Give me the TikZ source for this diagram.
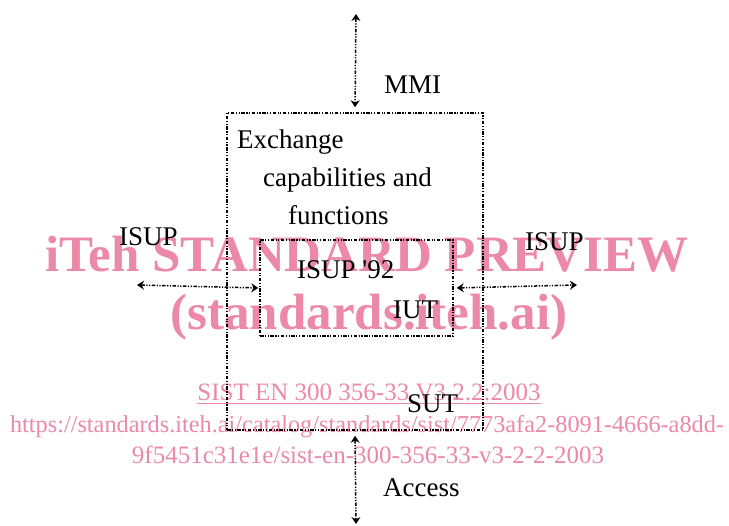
\documentclass[tikz,border=0pt]{standalone}
\usepackage{fontspec}
\setmainfont{Liberation Serif}
\usetikzlibrary{arrows.meta,positioning}

\definecolor{wmpink}{RGB}{236,136,168}

\begin{document}
\begin{tikzpicture}[x=1pt, y=-1pt,
    font=\fontsize{27}{32}\selectfont,
    dashdots/.style = {line width=1.5pt, dash pattern=on 3.5pt off 1.5pt on 1.2pt off 1.5pt on 1.2pt off 1.5pt},
    frame/.style = {rectangle, draw=black, dashdots, inner sep=0pt},
    link/.style = {dashdots, {Stealth[length=7pt,width=9pt]}-{Stealth[length=7pt,width=9pt]}},
    label/.style = {anchor=base west, inner sep=0pt},
    stamp/.style = {anchor=base, inner sep=0pt, text=wmpink}
]
\useasboundingbox (0,0) rectangle (729,526);

% Overprint, kept underneath
\node [stamp, font=\fontsize{51}{56}\selectfont\bfseries] at (367,272) {iTeh STANDARD PREVIEW};
\node [stamp, font=\fontsize{51}{56}\selectfont\bfseries] at (369,330) {(standards.iteh.ai)};
\node [stamp, font=\fontsize{25}{30}\selectfont] at (369,401) {\underline{SIST EN 300 356-33 V3.2.2:2003}};
\node [stamp, font=\fontsize{24.3}{29}\selectfont] at (367,433) {https://standards.iteh.ai/catalog/standards/sist/7773afa2-8091-4666-a8dd-};
\node [stamp, font=\fontsize{25}{30}\selectfont] at (368,464) {9f5451c31e1e/sist-en-300-356-33-v3-2-2-2003};

% Boxes
\node (sut) [frame, minimum width=256pt, minimum height=317pt] at (355,271.5) {};
\node (iut) [frame, minimum width=193pt, minimum height=96pt] at (356.5,288) {};

% Free ends of the interfaces
\coordinate (mmi) at (356,14);
\coordinate (acc) at (356,524);
\coordinate (isupl) at (137,285);
\coordinate (isupr) at (577,285);

% Labels
\node [label] at (384,94) {MMI};
\node [label] at (237,149) {Exchange};
\node [label] at (263,187) {capabilities and};
\node [label] at (288,225) {functions};
\node [label] at (119,246) {ISUP};
\node [label] at (525,251) {ISUP};
\node [label] at (297,279) {ISUP \textquotesingle 92};
\node [label] at (393,319) {IUT};
\node [label] at (407,413) {SUT};
\node [label] at (383,497) {Access};

% Interfaces
\draw [link, shorten >=5pt] (mmi) -- (sut.north);
\draw [link, shorten <=5pt] (sut.south) -- (acc);
\draw [link, shorten >=1pt] (isupl) -- (iut.west);
\draw [link, shorten <=3pt] (iut.east) -- (isupr);

\end{tikzpicture}
\end{document}
